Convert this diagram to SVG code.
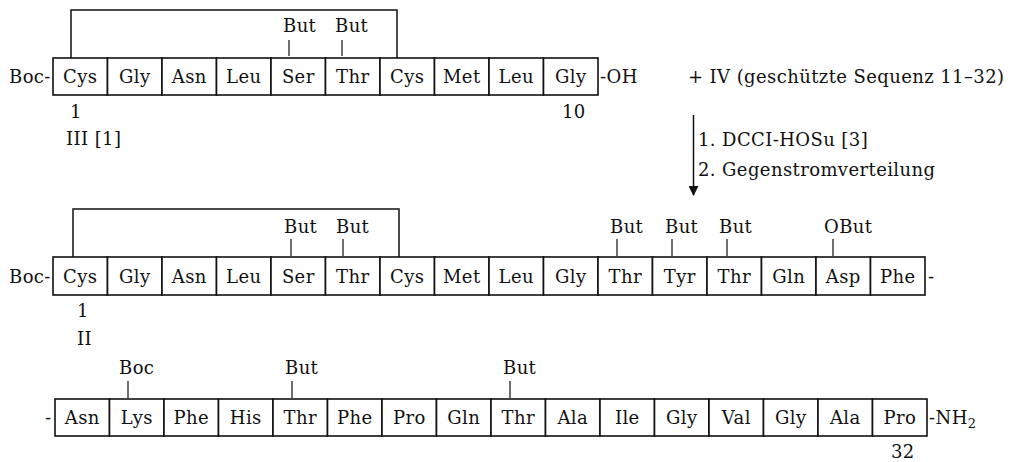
<svg xmlns="http://www.w3.org/2000/svg" width="1017" height="462" viewBox="0 0 1017 462">
<defs>
<style>
.t{font-family:"DejaVu Serif","Liberation Serif",serif;font-size:18px;letter-spacing:0.4px;fill:#111}
.c{text-anchor:middle}
.cell{fill:#fff;stroke:#111;stroke-width:1.6}
.ln{fill:none;stroke:#111;stroke-width:1.5}
.tk{fill:none;stroke:#111;stroke-width:1.2}
</style>
<marker id="ah" viewBox="0 0 10 10" refX="9" refY="5" markerWidth="10" markerHeight="10" orient="auto" markerUnits="userSpaceOnUse">
<path d="M0,0 L10,5 L0,10 z" fill="#111"/>
</marker>
</defs>
<rect width="1017" height="462" fill="#fff"/>

<!-- Row 1: Peptide III -->
<g id="peptide-III">
<text class="t" x="9" y="83">Boc-</text>
<g id="r1-1"><rect class="cell" x="53" y="58" width="54.5" height="37"/><text class="t c" x="80.3" y="83">Cys</text></g>
<g id="r1-2"><rect class="cell" x="107.5" y="58" width="54.5" height="37"/><text class="t c" x="134.8" y="83">Gly</text></g>
<g id="r1-3"><rect class="cell" x="162" y="58" width="54.5" height="37"/><text class="t c" x="189.3" y="83">Asn</text></g>
<g id="r1-4"><rect class="cell" x="216.5" y="58" width="54.5" height="37"/><text class="t c" x="243.8" y="83">Leu</text></g>
<g id="r1-5"><rect class="cell" x="271" y="58" width="54.5" height="37"/><text class="t c" x="298.3" y="83">Ser</text></g>
<g id="r1-6"><rect class="cell" x="325.5" y="58" width="54.5" height="37"/><text class="t c" x="352.8" y="83">Thr</text></g>
<g id="r1-7"><rect class="cell" x="380" y="58" width="54.5" height="37"/><text class="t c" x="407.3" y="83">Cys</text></g>
<g id="r1-8"><rect class="cell" x="434.5" y="58" width="54.5" height="37"/><text class="t c" x="461.8" y="83">Met</text></g>
<g id="r1-9"><rect class="cell" x="489" y="58" width="54.5" height="37"/><text class="t c" x="516.3" y="83">Leu</text></g>
<g id="r1-10"><rect class="cell" x="543.5" y="58" width="54.5" height="37"/><text class="t c" x="570.8" y="83">Gly</text></g>
<text class="t" x="600" y="83">-OH</text>
<text class="t" x="70" y="118">1</text>
<text class="t" x="562" y="118">10</text>
<text class="t" x="66" y="145">III [1]</text>
<text class="t" x="283" y="32">But</text>
<text class="t" x="335" y="32">But</text>
</g>

<!-- Reagent side -->
<g id="reagent-IV">
<text class="t" x="688" y="83">+ IV (geschützte Sequenz 11–32)</text>
</g>
<g id="conditions">
<text class="t" x="698" y="146">1.  DCCI-HOSu [3]</text>
<text class="t" x="698" y="176">2.  Gegenstromverteilung</text>
</g>

<!-- Row 2: Peptide II part 1 -->
<g id="peptide-II">
<text class="t" x="9" y="283">Boc-</text>
<g id="r2-1"><rect class="cell" x="53" y="257" width="54.5" height="38"/><text class="t c" x="80.3" y="283">Cys</text></g>
<g id="r2-2"><rect class="cell" x="107.5" y="257" width="54.5" height="38"/><text class="t c" x="134.8" y="283">Gly</text></g>
<g id="r2-3"><rect class="cell" x="162" y="257" width="54.5" height="38"/><text class="t c" x="189.3" y="283">Asn</text></g>
<g id="r2-4"><rect class="cell" x="216.5" y="257" width="54.5" height="38"/><text class="t c" x="243.8" y="283">Leu</text></g>
<g id="r2-5"><rect class="cell" x="271" y="257" width="54.5" height="38"/><text class="t c" x="298.3" y="283">Ser</text></g>
<g id="r2-6"><rect class="cell" x="325.5" y="257" width="54.5" height="38"/><text class="t c" x="352.8" y="283">Thr</text></g>
<g id="r2-7"><rect class="cell" x="380" y="257" width="54.5" height="38"/><text class="t c" x="407.3" y="283">Cys</text></g>
<g id="r2-8"><rect class="cell" x="434.5" y="257" width="54.5" height="38"/><text class="t c" x="461.8" y="283">Met</text></g>
<g id="r2-9"><rect class="cell" x="489" y="257" width="54.5" height="38"/><text class="t c" x="516.3" y="283">Leu</text></g>
<g id="r2-10"><rect class="cell" x="543.5" y="257" width="54.5" height="38"/><text class="t c" x="570.8" y="283">Gly</text></g>
<g id="r2-11"><rect class="cell" x="598" y="257" width="54.5" height="38"/><text class="t c" x="625.3" y="283">Thr</text></g>
<g id="r2-12"><rect class="cell" x="652.5" y="257" width="54.5" height="38"/><text class="t c" x="679.8" y="283">Tyr</text></g>
<g id="r2-13"><rect class="cell" x="707" y="257" width="54.5" height="38"/><text class="t c" x="734.3" y="283">Thr</text></g>
<g id="r2-14"><rect class="cell" x="761.5" y="257" width="54.5" height="38"/><text class="t c" x="788.8" y="283">Gln</text></g>
<g id="r2-15"><rect class="cell" x="816" y="257" width="54.5" height="38"/><text class="t c" x="843.3" y="283">Asp</text></g>
<g id="r2-16"><rect class="cell" x="870.5" y="257" width="54.5" height="38"/><text class="t c" x="897.8" y="283">Phe</text></g>
<text class="t" x="928" y="283">-</text>
<text class="t" x="77" y="317">1</text>
<text class="t" x="77" y="345">II</text>
<text class="t" x="284" y="233">But</text>
<text class="t" x="336" y="233">But</text>
<text class="t" x="610" y="233">But</text>
<text class="t" x="665" y="233">But</text>
<text class="t" x="719" y="233">But</text>
<text class="t" x="824" y="233">OBut</text>
</g>

<!-- Row 3: Peptide II part 2 -->
<g id="peptide-II-cont">
<text class="t" x="45" y="424">-</text>
<g id="r3-17"><rect class="cell" x="55" y="399" width="54.5" height="37"/><text class="t c" x="82.3" y="424">Asn</text></g>
<g id="r3-18"><rect class="cell" x="109.5" y="399" width="54.5" height="37"/><text class="t c" x="136.8" y="424">Lys</text></g>
<g id="r3-19"><rect class="cell" x="164" y="399" width="54.5" height="37"/><text class="t c" x="191.3" y="424">Phe</text></g>
<g id="r3-20"><rect class="cell" x="218.5" y="399" width="54.5" height="37"/><text class="t c" x="245.8" y="424">His</text></g>
<g id="r3-21"><rect class="cell" x="273" y="399" width="54.5" height="37"/><text class="t c" x="300.3" y="424">Thr</text></g>
<g id="r3-22"><rect class="cell" x="327.5" y="399" width="54.5" height="37"/><text class="t c" x="354.8" y="424">Phe</text></g>
<g id="r3-23"><rect class="cell" x="382" y="399" width="54.5" height="37"/><text class="t c" x="409.3" y="424">Pro</text></g>
<g id="r3-24"><rect class="cell" x="436.5" y="399" width="54.5" height="37"/><text class="t c" x="463.8" y="424">Gln</text></g>
<g id="r3-25"><rect class="cell" x="491" y="399" width="54.5" height="37"/><text class="t c" x="518.3" y="424">Thr</text></g>
<g id="r3-26"><rect class="cell" x="545.5" y="399" width="54.5" height="37"/><text class="t c" x="572.8" y="424">Ala</text></g>
<g id="r3-27"><rect class="cell" x="600" y="399" width="54.5" height="37"/><text class="t c" x="627.3" y="424">Ile</text></g>
<g id="r3-28"><rect class="cell" x="654.5" y="399" width="54.5" height="37"/><text class="t c" x="681.8" y="424">Gly</text></g>
<g id="r3-29"><rect class="cell" x="709" y="399" width="54.5" height="37"/><text class="t c" x="736.3" y="424">Val</text></g>
<g id="r3-30"><rect class="cell" x="763.5" y="399" width="54.5" height="37"/><text class="t c" x="790.8" y="424">Gly</text></g>
<g id="r3-31"><rect class="cell" x="818" y="399" width="54.5" height="37"/><text class="t c" x="845.3" y="424">Ala</text></g>
<g id="r3-32"><rect class="cell" x="872.5" y="399" width="54.5" height="37"/><text class="t c" x="899.8" y="424">Pro</text></g>
<text class="t" x="929" y="424">-NH<tspan font-size="13" dy="4">2</tspan></text>
<text class="t" x="891" y="458">32</text>
<text class="t" x="119" y="374">Boc</text>
<text class="t" x="285" y="374">But</text>
<text class="t" x="503" y="374">But</text>
</g>

<!-- Connectors: disulfide brackets, protecting-group ticks, reaction arrow -->
<g id="connectors">
<path class="ln" d="M71,58 V10 H397 V58"/>
<path class="ln" d="M73,257 V209 H399 V257"/>
<path class="tk" d="M289,40 V56 M342,40 V56"/>
<path class="tk" d="M291,239 V256 M343,239 V256 M617,239 V256 M672,239 V256 M727,239 V256 M833,239 V256"/>
<path class="tk" d="M128,381 V398 M292,381 V398 M510,381 V398"/>
<line class="ln" x1="693.5" y1="115" x2="693.5" y2="195" marker-end="url(#ah)"/>
</g>
</svg>
